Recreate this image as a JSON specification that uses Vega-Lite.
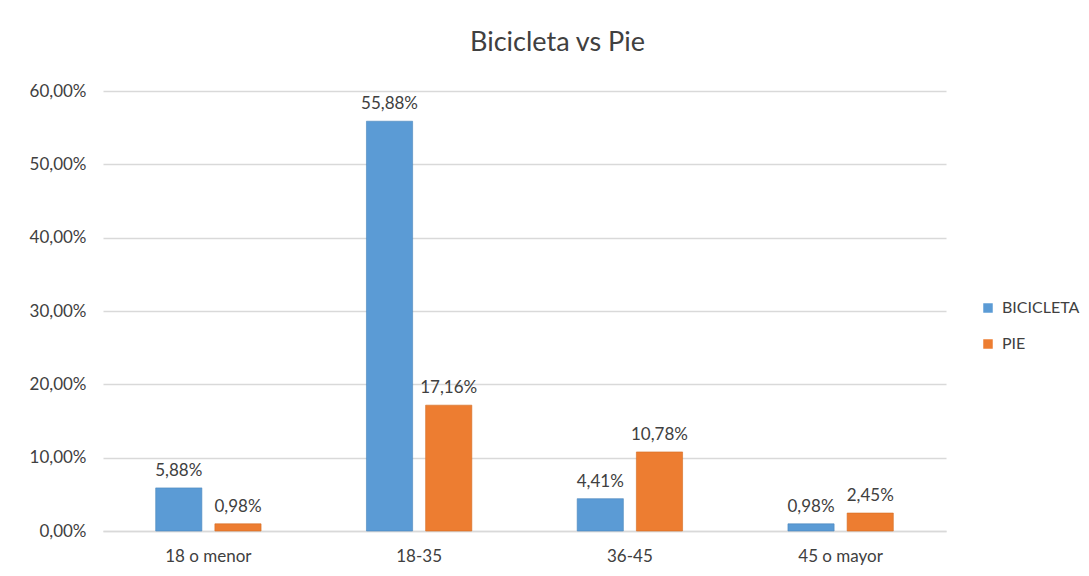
{
  "$schema": "https://vega.github.io/schema/vega-lite/v6.json",
  "width": 843,
  "height": 440,
  "autosize": {"type": "none"},
  "padding": {"left": 103, "top": 91, "right": 143, "bottom": 45},
  "background": "white",
  "config": {
    "locale": {"number": {"decimal": ",", "thousands": ".", "grouping": [3], "currency": ["", " €"]}},
    "font": "Lato",
    "view": {"stroke": null}
  },
  "title": {
    "text": "Bicicleta vs Pie",
    "fontSize": 27,
    "fontWeight": "normal",
    "color": "#404040",
    "font": "Lato",
    "anchor": "middle",
    "frame": "group",
    "dx": 33,
    "offset": 25
  },
  "data": {
    "values": [
      {"edad": "18 o menor", "modo": "BICICLETA", "valor": 0.0588},
      {"edad": "18 o menor", "modo": "PIE", "valor": 0.0098},
      {"edad": "18-35", "modo": "BICICLETA", "valor": 0.5588},
      {"edad": "18-35", "modo": "PIE", "valor": 0.1716},
      {"edad": "36-45", "modo": "BICICLETA", "valor": 0.0441},
      {"edad": "36-45", "modo": "PIE", "valor": 0.1078},
      {"edad": "45 o mayor", "modo": "BICICLETA", "valor": 0.0098},
      {"edad": "45 o mayor", "modo": "PIE", "valor": 0.0245}
    ]
  },
  "encoding": {
    "x": {
      "field": "edad",
      "type": "nominal",
      "sort": ["18 o menor", "18-35", "36-45", "45 o mayor"],
      "scale": {"paddingInner": 0.5, "paddingOuter": 0.25},
      "axis": {
        "title": null,
        "labelAngle": 0,
        "labelFontSize": 17,
        "labelColor": "#404040",
        "labelPadding": 17,
        "ticks": false,
        "domain": true,
        "domainColor": "#d9d9d9",
        "domainWidth": 1.5
      }
    },
    "xOffset": {
      "field": "modo",
      "type": "nominal",
      "scale": {"paddingInner": 0.22, "paddingOuter": 0}
    },
    "y": {
      "field": "valor",
      "type": "quantitative",
      "scale": {"domain": [0, 0.6]},
      "axis": {
        "title": null,
        "format": ".2%",
        "values": [0, 0.1, 0.2, 0.3, 0.4, 0.5, 0.6],
        "labelFontSize": 17,
        "labelColor": "#404040",
        "labelPadding": 17,
        "ticks": false,
        "domain": false,
        "grid": true,
        "gridColor": "#d9d9d9",
        "gridWidth": 1.5
      }
    }
  },
  "layer": [
    {
      "mark": {"type": "bar", "strokeWidth": 1, "strokeOpacity": 0.6},
      "encoding": {
        "color": {
          "field": "modo",
          "type": "nominal",
          "scale": {"domain": ["BICICLETA", "PIE"], "range": ["#5b9bd5", "#ed7d31"]},
          "legend": {
            "title": null,
            "orient": "none",
            "legendX": 877,
            "legendY": 209,
            "symbolType": "square",
            "symbolSize": 90,
            "symbolStrokeWidth": 0,
            "labelFontSize": 16,
            "labelColor": "#404040",
            "rowPadding": 20,
            "labelOffset": 6
          }
        },
        "stroke": {
          "field": "modo",
          "type": "nominal",
          "scale": {"domain": ["BICICLETA", "PIE"], "range": ["#4a86bd", "#d46a22"]},
          "legend": null
        }
      }
    },
    {
      "mark": {"type": "text", "baseline": "bottom", "dy": -8, "fontSize": 17, "color": "#404040"},
      "encoding": {
        "text": {"field": "valor", "type": "quantitative", "format": ".2%"}
      }
    }
  ]
}
